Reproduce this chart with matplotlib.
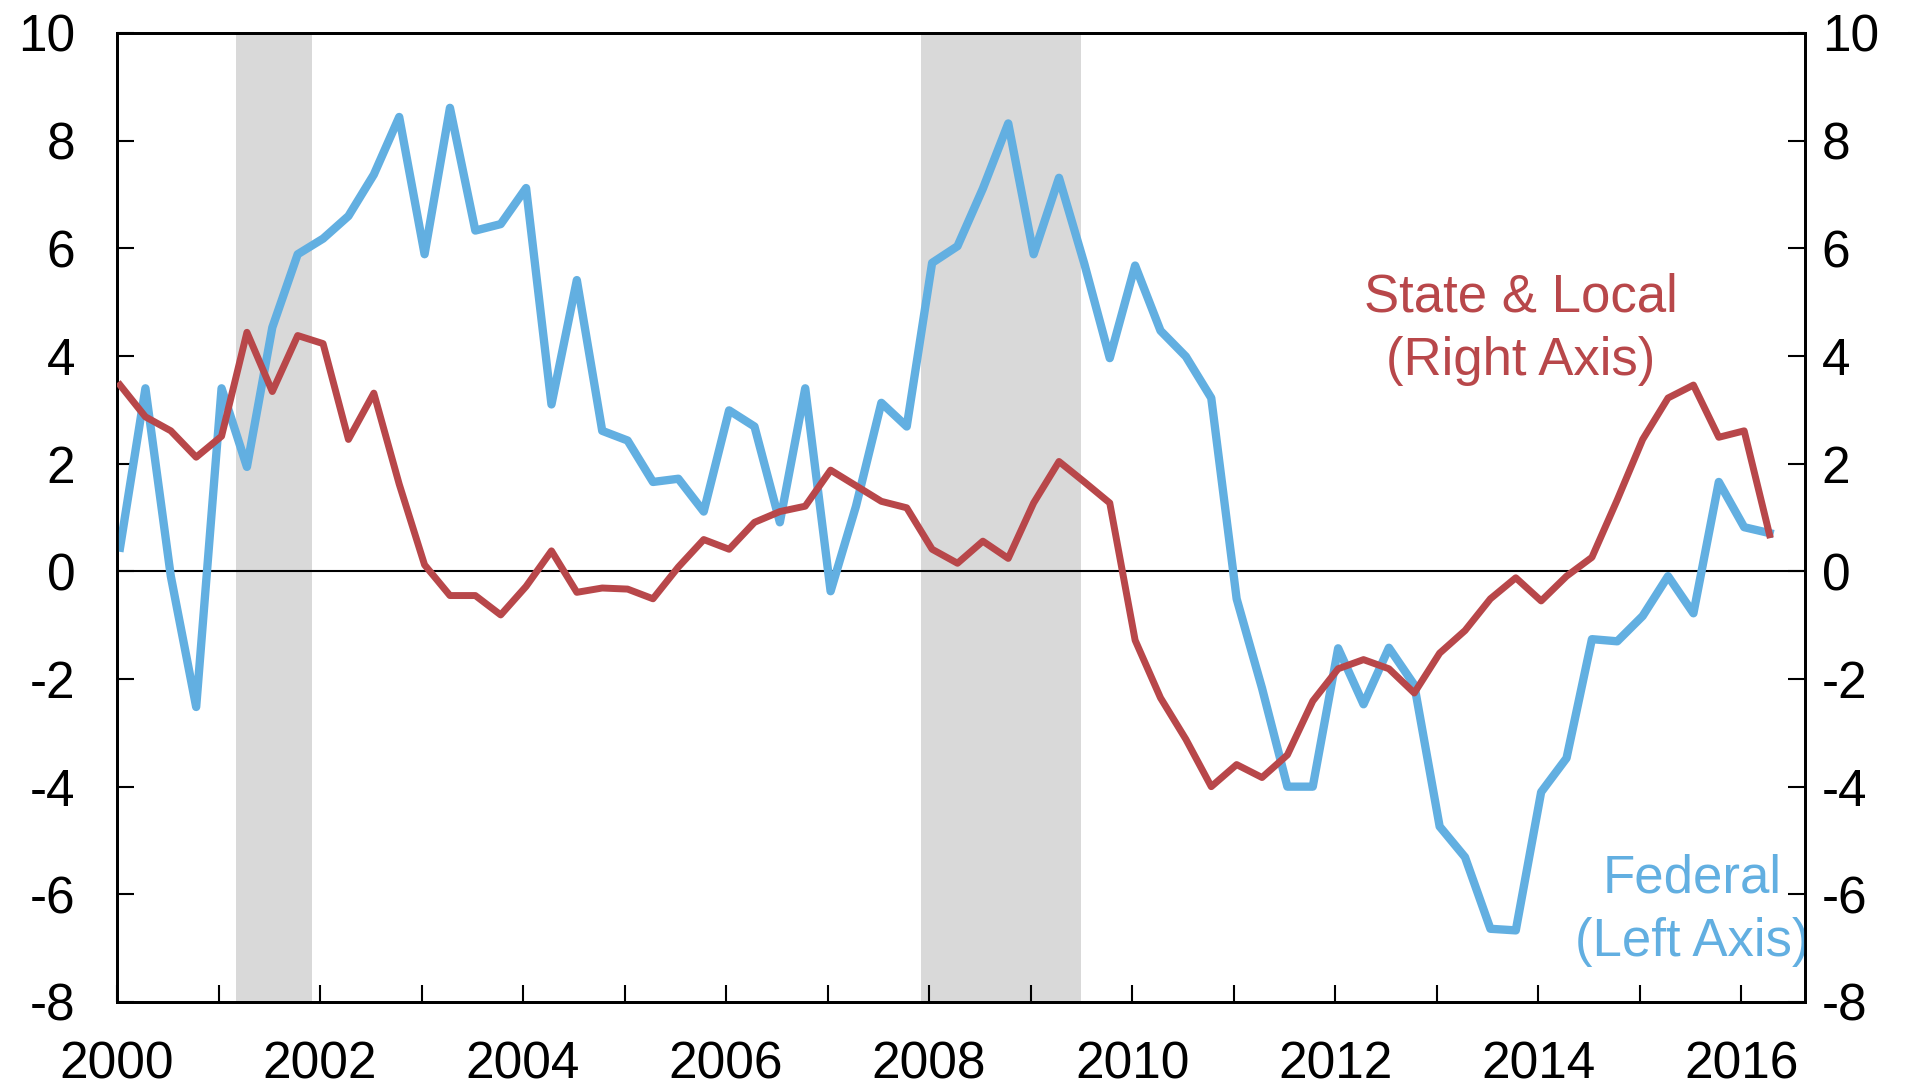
import matplotlib
matplotlib.use("Agg")
import matplotlib.pyplot as plt
import numpy as np
from matplotlib.ticker import MultipleLocator

plt.rcParams['font.family'] = ['Liberation Sans', 'DejaVu Sans']
plt.rcParams['axes.unicode_minus'] = False

# quarterly data, 2000Q1 - 2016Q2
start_year = 2000
federal = [0.44, 3.40, -0.09, -2.52, 3.40, 1.94, 4.53, 5.89,
           6.18, 6.60, 7.37, 8.44, 5.89, 8.61, 6.33, 6.45,
           7.12, 3.10, 5.41, 2.61, 2.43, 1.66, 1.72, 1.11,
           2.99, 2.69, 0.91, 3.40, -0.37, 1.21, 3.13, 2.69,
           5.73, 6.04, 7.11, 8.32, 5.89, 7.31, 5.71, 3.96,
           5.68, 4.47, 3.99, 3.22, -0.51, -2.17, -4.00, -4.00,
           -1.43, -2.47, -1.42, -2.11, -4.74, -5.31, -6.64, -6.67,
           -4.10, -3.47, -1.26, -1.30, -0.83, -0.09, -0.78, 1.66,
           0.82, 0.71]
state_local = [3.46, 2.87, 2.61, 2.12, 2.51, 4.44, 3.34, 4.38,
               4.23, 2.45, 3.31, 1.62, 0.12, -0.45, -0.45, -0.81,
               -0.28, 0.38, -0.39, -0.31, -0.33, -0.51, 0.08, 0.59,
               0.41, 0.91, 1.11, 1.21, 1.88, 1.59, 1.30, 1.18,
               0.41, 0.15, 0.56, 0.24, 1.27, 2.04, 1.66, 1.27,
               -1.28, -2.35, -3.12, -4.00, -3.59, -3.83, -3.41, -2.41,
               -1.81, -1.64, -1.81, -2.26, -1.52, -1.10, -0.51, -0.12,
               -0.55, -0.09, 0.26, 1.33, 2.45, 3.22, 3.46, 2.49,
               2.61, 0.68]
recessions = [(2001.17, 2001.92), (2007.92, 2009.5)]

x = start_year + 0.03 + 0.25 * np.arange(len(federal))

blue = '#62AFE1'
red = '#B8474A'

fig = plt.figure(figsize=(19.15, 10.89), dpi=100)
ax = fig.add_axes([0.0611, 0.0799, 0.8815, 0.8898])
ax2 = ax.twinx()

for a, b in recessions:
    ax.axvspan(a, b, color='#D9D9D9', lw=0, zorder=0)
ax.axhline(0, color='black', lw=1.5, zorder=1)

ax.plot(x, federal, color=blue, lw=6, zorder=3, solid_joinstyle='round')
ax2.plot(x, state_local, color=red, lw=5, zorder=3, solid_joinstyle='round')

for a in (ax, ax2):
    a.set_ylim(-8, 10)
    a.set_xlim(2000, 2016.63)
    a.yaxis.set_major_locator(MultipleLocator(2))
    for s in a.spines.values():
        s.set_linewidth(2)

ax.xaxis.set_major_locator(MultipleLocator(2))
ax.xaxis.set_minor_locator(MultipleLocator(1))
ax.tick_params(axis='x', which='both', direction='in', length=12, width=1.5,
               labelsize=37, pad=28, top=False)
ax.tick_params(axis='y', direction='in', length=12, width=1.5, labelsize=37, pad=30)
ax2.tick_params(axis='y', direction='in', length=12, width=1.5, labelsize=37, pad=12)

ax.text(2013.83, 4.5, 'State & Local\n(Right Axis)', color=red, fontsize=38,
        ha='center', va='center', multialignment='center', linespacing=1.35)
ax.text(2015.52, -6.3, 'Federal\n(Left Axis)', color=blue, fontsize=38,
        ha='center', va='center', multialignment='center', linespacing=1.35)

fig.savefig('out.png', dpi=100)
